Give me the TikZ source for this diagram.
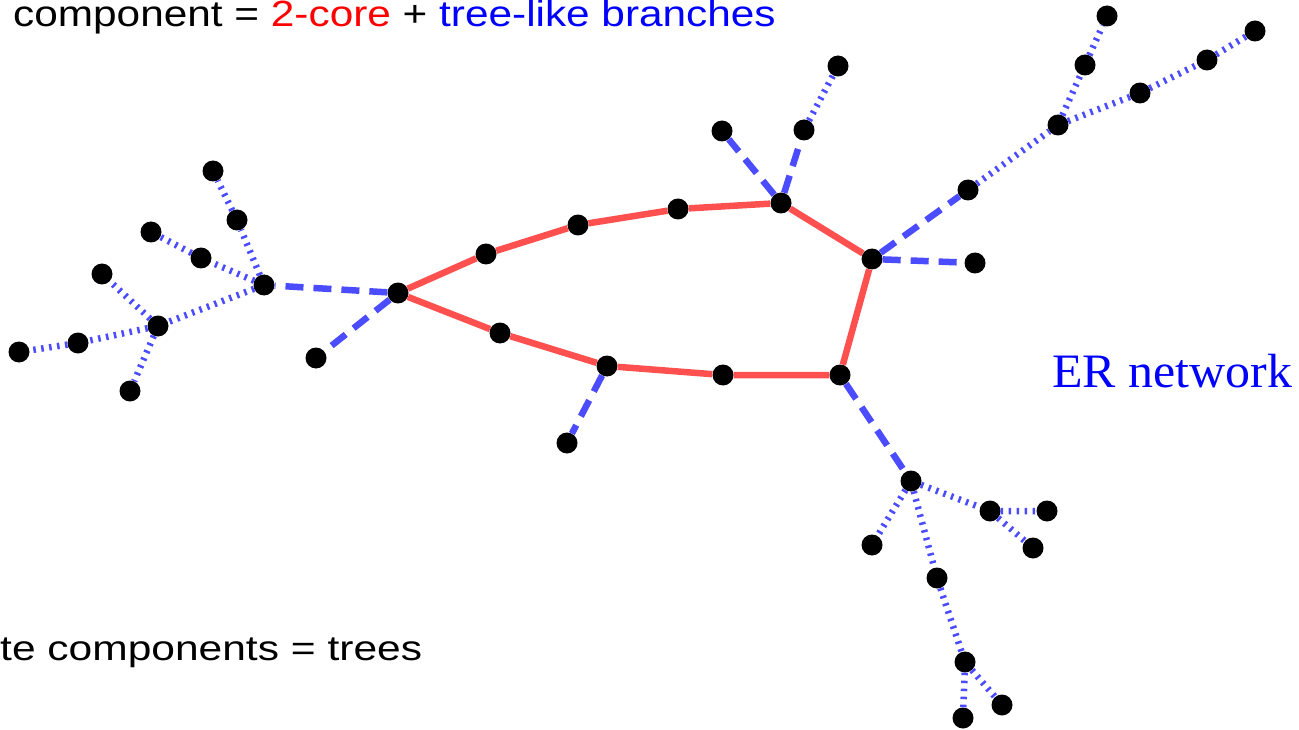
\documentclass[tikz,border=0pt]{standalone}
\usepackage{fontspec}
\setmainfont{Liberation Sans}
\newfontfamily\serifer{Liberation Serif}
\definecolor{coreRed}{RGB}{255,80,80}
\definecolor{branchBlue}{RGB}{75,75,255}
\definecolor{txtRed}{RGB}{255,0,0}
\definecolor{txtBlue}{RGB}{0,0,255}
\tikzset{
  dot/.style={circle, fill=black, inner sep=0pt, minimum size=21pt},
  coreedge/.style={draw=coreRed, line width=6.5pt},
  dashedge/.style={draw=branchBlue, line width=6.5pt, dash pattern=on 18pt off 10pt},
  dotedge/.style={draw=branchBlue, line width=6.5pt, dash pattern=on 2.5pt off 5.5pt},
  lbl/.style={inner sep=0pt, anchor=base west}
}
\begin{document}
\begin{tikzpicture}[x=1pt, y=-1pt]
\useasboundingbox (0,0) rectangle (1299,730);

% 2-core cycle
\node[dot] (c1) at (398,293) {};
\node[dot] (c2) at (486,254) {};
\node[dot] (c3) at (578,225) {};
\node[dot] (c4) at (678,209) {};
\node[dot] (c5) at (781,203) {};
\node[dot] (c6) at (872,259) {};
\node[dot] (c7) at (840,375) {};
\node[dot] (c8) at (723,375) {};
\node[dot] (c9) at (607,366) {};
\node[dot] (c10) at (500,333) {};

% left tree
\node[dot] (a1) at (264,285) {};
\node[dot] (a2) at (237,220) {};
\node[dot] (a3) at (213,171) {};
\node[dot] (a4) at (201,258) {};
\node[dot] (a5) at (151,232) {};
\node[dot] (a6) at (158,326) {};
\node[dot] (a7) at (102,274) {};
\node[dot] (a8) at (78,343) {};
\node[dot] (a9) at (19,352) {};
\node[dot] (a10) at (130,391) {};
\node[dot] (a11) at (316,358) {};

% upper branches
\node[dot] (b1) at (722,131) {};
\node[dot] (b2) at (804,130) {};
\node[dot] (b3) at (838,66) {};

% right tree
\node[dot] (d1) at (968,190) {};
\node[dot] (d2) at (975,263) {};
\node[dot] (d3) at (1058,125) {};
\node[dot] (d4) at (1085,65) {};
\node[dot] (d5) at (1107,16) {};
\node[dot] (d6) at (1140,93) {};
\node[dot] (d7) at (1207,60) {};
\node[dot] (d8) at (1255,31) {};

% lower branches
\node[dot] (e1) at (567,443) {};
\node[dot] (f1) at (911,481) {};
\node[dot] (f2) at (872,545) {};
\node[dot] (f3) at (990,511) {};
\node[dot] (f4) at (1047,511) {};
\node[dot] (f5) at (1033,548) {};
\node[dot] (f6) at (937,578) {};
\node[dot] (f7) at (965,662) {};
\node[dot] (f8) at (963,718) {};
\node[dot] (f9) at (1002,705) {};

% the 2-core
\draw[coreedge] (c1) -- (c2) -- (c3) -- (c4) -- (c5) -- (c6) -- (c7) -- (c8) -- (c9) -- (c10) -- (c1);

% first edges of the tree-like branches
\draw[dashedge] (c1) -- (a1);
\draw[dashedge] (c1) -- (a11);
\draw[dashedge] (c5) -- (b1);
\draw[dashedge] (c5) -- (b2);
\draw[dashedge] (c6) -- (d1);
\draw[dashedge] (c6) -- (d2);
\draw[dashedge] (c9) -- (e1);
\draw[dashedge] (c7) -- (f1);

% deeper branch edges
\draw[dotedge] (a1) -- (a2) -- (a3);
\draw[dotedge] (a1) -- (a4) -- (a5);
\draw[dotedge] (a1) -- (a6);
\draw[dotedge] (a6) -- (a7);
\draw[dotedge] (a6) -- (a8) -- (a9);
\draw[dotedge] (a6) -- (a10);

\draw[dotedge] (b2) -- (b3);

\draw[dotedge] (d1) -- (d3);
\draw[dotedge] (d3) -- (d4) -- (d5);
\draw[dotedge] (d3) -- (d6) -- (d7) -- (d8);

\draw[dotedge] (f1) -- (f2);
\draw[dotedge] (f1) -- (f3) -- (f4);
\draw[dotedge] (f3) -- (f5);
\draw[dotedge] (f1) -- (f6) -- (f7) -- (f8);
\draw[dotedge] (f7) -- (f9);

% labels
\node[lbl] (title) at (13,27) {\fontsize{36.5}{40}\selectfont\scalebox{1.16}[1]{component = \textcolor{txtRed}{2-core} + \textcolor{txtBlue}{tree-like branches}}};
\node[lbl] (finite) at (0,660) {\fontsize{35}{40}\selectfont\scalebox{1.215}[1]{te components = trees}};
\node[lbl] (er) at (1052,387) {\fontsize{48}{52}\selectfont\serifer\scalebox{1.04}[1]{\textcolor{txtBlue}{ER network}}};
\end{tikzpicture}
\end{document}
